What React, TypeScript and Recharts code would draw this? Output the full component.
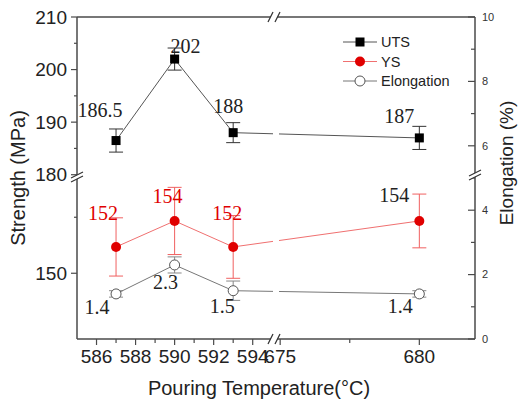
import React from 'react';
import { ComposedChart, Line, XAxis, YAxis, ErrorBar, LabelList } from 'recharts';

// pouring temperature (°C) and measured properties
const TEMPS = [587, 590, 593, 680];
const UTS = [186.5, 202, 188, 187];
const UTS_ERR = [2.2, 2.1, 1.9, 2.2];
const YS = [152.35, 154.67, 152.35, 154.67];
const YS_ERR = [2.6, 3.0, 2.8, 2.4];
const ELONG = [1.4, 2.3, 1.5, 1.4];
const ELONG_ERR = [0.1, 0.25, 0.3, 0.1];

const UTS_LABELS = ['186.5', '202', '188', '187'];
const YS_LABELS = ['152', '154', '152', '154'];
const ELONG_LABELS = ['1.4', '2.3', '1.5', '1.4'];
const YS_LABEL_COLORS = ['#e00000', '#e00000', '#e00000', '#222'];

const X_MAJOR = [586, 588, 590, 592, 594, 675, 680];
const X_MINOR = [587, 589, 591, 593, 677.5];
const UTS_TICKS = [180, 185, 190, 195, 200, 205, 210];
const YS_TICKS = [150, 155];
const ELONG_TICKS = [0, 1, 2, 3, 4, 5, 6, 7, 8, 9, 10];

// label placement relative to each point
const UTS_LABEL_OFF = [[-16, -31], [11, -13], [-5, -27], [-20, -22]];
const YS_LABEL_OFF = [[-13, -34], [-7, -25], [-6, -34], [-25, -26]];
const ELONG_LABEL_OFF = [[-19, 13], [-9, 17], [-11, 15], [-19, 12]];

const W = 518;
const H = 401;
const PLOT = { left: 77, right: 475, top: 17, bottom: 339 };

const SANS = '"Liberation Sans", Arial, sans-serif';
const SERIF = '"Liberation Serif", "Times New Roman", serif';
const AXIS = '#4a4a4a';
const RED = '#e00000';

// broken x axis: two segments glued together
const SEG1 = [585, 595.15];
const SEG2 = [674.82, 682];
const SEG2_STRETCH = 27.8 / 19.5;
const toPos = (t: number) =>
  t <= SEG1[1] ? t - SEG1[0] : SEG1[1] - SEG1[0] + (t - SEG2[0]) * SEG2_STRETCH;
const POS_MAX = toPos(SEG2[1]);

// broken left axis: UTS scale above, YS scale below
const UTS_DOMAIN = [148.75, 210];
const YS_DOMAIN = [144.13, 172.88];
const ysToUts = (v: number) =>
  UTS_DOMAIN[0] + ((v - YS_DOMAIN[0]) / (YS_DOMAIN[1] - YS_DOMAIN[0])) * (UTS_DOMAIN[1] - UTS_DOMAIN[0]);

const data = TEMPS.map((t, i) => ({
  pos: toPos(t),
  uts: UTS[i],
  utsErr: UTS_ERR[i],
  ys: YS[i],
  ysErr: YS_ERR[i],
  el: ELONG[i],
  elErr: ELONG_ERR[i],
}));

const xTicks = [
  ...X_MAJOR.map(v => ({ v: toPos(v), label: String(v), major: true })),
  ...X_MINOR.map(v => ({ v: toPos(v), label: '', major: false })),
].sort((a, b) => a.v - b.v);

const leftTicks = [
  ...YS_TICKS.map(v => ({ v: ysToUts(v), label: v % 10 === 0 ? String(v) : '', major: v % 10 === 0 })),
  ...UTS_TICKS.map(v => ({ v, label: v % 10 === 0 ? String(v) : '', major: v % 10 === 0 })),
];

const findTick = (list: { v: number; label: string; major: boolean }[], value: number) =>
  list.reduce((best, t) => (Math.abs(t.v - value) < Math.abs(best.v - value) ? t : best), list[0]);

const XTick = (props: any) => {
  const { x, y, payload } = props;
  const t = findTick(xTicks, payload.value);
  return (
    <g>
      <line x1={x} x2={x} y1={y} y2={y + (t.major ? 6 : 4)} stroke={AXIS} strokeWidth={1.2} />
      {t.label && (
        <text x={x} y={y + 17} dy="0.35em" textAnchor="middle" fontFamily={SANS} fontSize={19} fill="#222">
          {t.label}
        </text>
      )}
    </g>
  );
};

const LeftTick = (props: any) => {
  const { x, y, payload } = props;
  const t = findTick(leftTicks, payload.value);
  return (
    <g>
      <line x1={x} x2={x - (t.major ? 6 : 3)} y1={y} y2={y} stroke={AXIS} strokeWidth={1.2} />
      {t.label && (
        <text x={x - 10} y={y} dy="0.35em" textAnchor="end" fontFamily={SANS} fontSize={19} fill="#222">
          {t.label}
        </text>
      )}
    </g>
  );
};

const RightTick = (props: any) => {
  const { x, y, payload } = props;
  const major = payload.value % 2 === 0;
  return (
    <g>
      <line x1={x} x2={x - (major ? 7 : 4)} y1={y} y2={y} stroke={AXIS} strokeWidth={1.2} />
      {major && (
        <text x={x + 7} y={y} dy="0.35em" textAnchor="start" fontFamily={SANS} fontSize={11} fill="#333">
          {payload.value}
        </text>
      )}
    </g>
  );
};

const makeLabel = (texts: string[], offsets: number[][], colors: string[]) => (props: any) => {
  const { x, y, index } = props;
  const [dx, dy] = offsets[index] || [0, 0];
  return (
    <text x={x + dx} y={y + dy} dy="0.35em" textAnchor="middle" fill={colors[index]} fontFamily={SERIF} fontSize={20}>
      {texts[index]}
    </text>
  );
};

const squareDot = (p: any) => (
  <rect key={`sq-${p.index}`} x={p.cx - 4.5} y={p.cy - 4.5} width={9} height={9} fill="#000" />
);
const redDot = (p: any) => <circle key={`rd-${p.index}`} cx={p.cx} cy={p.cy} r={5} fill={RED} />;
const openDot = (p: any) => (
  <circle key={`od-${p.index}`} cx={p.cx} cy={p.cy} r={5} fill="#fff" stroke="#555" strokeWidth={1} />
);

// "//" marks where an axis is broken
const HBreak = ({ cx, cy }: { cx: number; cy: number }) => (
  <g>
    <polygon points={`${cx - 6},${cy + 5} ${cx - 1},${cy - 5} ${cx + 6},${cy - 5} ${cx + 1},${cy + 5}`} fill="#fff" />
    <line x1={cx - 6} y1={cy + 5} x2={cx - 1} y2={cy - 5} stroke="#333" strokeWidth={1.2} />
    <line x1={cx + 1} y1={cy + 5} x2={cx + 6} y2={cy - 5} stroke="#333" strokeWidth={1.2} />
  </g>
);
const VBreak = ({ cx, cy }: { cx: number; cy: number }) => (
  <g>
    <polygon points={`${cx - 6},${cy + 1} ${cx + 6},${cy - 5} ${cx + 6},${cy - 1} ${cx - 6},${cy + 5}`} fill="#fff" />
    <line x1={cx - 6} y1={cy + 1} x2={cx + 6} y2={cy - 5} stroke="#333" strokeWidth={1.2} />
    <line x1={cx - 6} y1={cy + 5} x2={cx + 6} y2={cy - 1} stroke="#333" strokeWidth={1.2} />
  </g>
);

const LEGEND = [
  { name: 'UTS', line: '#555', dot: 'square' },
  { name: 'YS', line: '#f07070', dot: 'red' },
  { name: 'Elongation', line: '#777', dot: 'open' },
];

const Overlay = () => {
  const bx = 274;
  return (
    <svg width={W} height={H} style={{ position: 'absolute', left: 0, top: 0, pointerEvents: 'none' }}>
      {/* gap in the series lines at the x break */}
      <rect x={bx - 1} y={PLOT.top + 3} width={6} height={PLOT.bottom - PLOT.top - 8} fill="#fff" />
      <line x1={PLOT.left} x2={PLOT.right} y1={PLOT.top} y2={PLOT.top} stroke={AXIS} strokeWidth={1.5} />
      <HBreak cx={bx} cy={PLOT.top} />
      <HBreak cx={bx} cy={PLOT.bottom} />
      <VBreak cx={PLOT.left} cy={177} />
      <VBreak cx={PLOT.right} cy={175} />
      {LEGEND.map((l, i) => {
        const y = 42 + i * 19.5;
        return (
          <g key={l.name}>
            <line x1={343} x2={377} y1={y} y2={y} stroke={l.line} strokeWidth={1} />
            {l.dot === 'square' && <rect x={355.5} y={y - 4.5} width={9} height={9} fill="#000" />}
            {l.dot === 'red' && <circle cx={360} cy={y} r={5} fill={RED} />}
            {l.dot === 'open' && <circle cx={360} cy={y} r={5} fill="#fff" stroke="#555" />}
            <text x={381} y={y} dy="0.35em" fontFamily={SANS} fontSize={14.5} fill="#222">
              {l.name}
            </text>
          </g>
        );
      })}
      <text
        transform="translate(18,178) rotate(-90)"
        textAnchor="middle"
        dy="0.35em"
        fontFamily={SANS}
        fontSize={20}
        fill="#222"
      >
        Strength (MPa)
      </text>
      <text
        transform="translate(506,163) rotate(-90)"
        textAnchor="middle"
        dy="0.35em"
        fontFamily={SANS}
        fontSize={19}
        fill="#222"
      >
        Elongation (%)
      </text>
      <text x={259} y={388} dy="0.35em" textAnchor="middle" fontFamily={SANS} fontSize={20} fill="#222">
        Pouring Temperature(°C)
      </text>
    </svg>
  );
};

export default function App() {
  return (
    <div style={{ position: 'absolute', left: 0, top: 0, width: W, height: H, background: '#fff' }}>
      <ComposedChart width={W} height={H} data={data} margin={{ top: PLOT.top, right: 0, bottom: 0, left: 0 }}>
        <XAxis
          type="number"
          dataKey="pos"
          domain={[0, POS_MAX]}
          allowDataOverflow
          ticks={xTicks.map(t => t.v)}
          interval={0}
          height={H - PLOT.bottom}
          tickSize={0}
          tickMargin={0}
          tickLine={false}
          tick={<XTick />}
          axisLine={{ stroke: AXIS, strokeWidth: 1.5 }}
        />
        <YAxis
          yAxisId="uts"
          domain={UTS_DOMAIN}
          allowDataOverflow
          ticks={leftTicks.map(t => t.v)}
          interval={0}
          width={PLOT.left}
          tickSize={0}
          tickMargin={0}
          tickLine={false}
          tick={<LeftTick />}
          axisLine={{ stroke: AXIS, strokeWidth: 1.5 }}
        />
        <YAxis yAxisId="ys" domain={YS_DOMAIN} allowDataOverflow hide />
        <YAxis
          yAxisId="el"
          orientation="right"
          domain={[0, 10]}
          allowDataOverflow
          ticks={ELONG_TICKS}
          interval={0}
          width={W - PLOT.right}
          tickSize={0}
          tickMargin={0}
          tickLine={false}
          tick={<RightTick />}
          axisLine={{ stroke: AXIS, strokeWidth: 1.5 }}
        />
        <Line
          yAxisId="el"
          dataKey="el"
          stroke="#777"
          strokeWidth={1}
          dot={openDot}
          activeDot={false}
          isAnimationActive={false}
        >
          <ErrorBar dataKey="elErr" width={7} stroke="#888" strokeWidth={1} direction="y" />
          <LabelList dataKey="el" content={makeLabel(ELONG_LABELS, ELONG_LABEL_OFF, ['#222', '#222', '#222', '#222'])} />
        </Line>
        <Line
          yAxisId="ys"
          dataKey="ys"
          stroke="#f07070"
          strokeWidth={1}
          dot={redDot}
          activeDot={false}
          isAnimationActive={false}
        >
          <ErrorBar dataKey="ysErr" width={7} stroke="#f06060" strokeWidth={1} direction="y" />
          <LabelList dataKey="ys" content={makeLabel(YS_LABELS, YS_LABEL_OFF, YS_LABEL_COLORS)} />
        </Line>
        <Line
          yAxisId="uts"
          dataKey="uts"
          stroke="#555"
          strokeWidth={1}
          dot={squareDot}
          activeDot={false}
          isAnimationActive={false}
        >
          <ErrorBar dataKey="utsErr" width={7} stroke="#333" strokeWidth={1} direction="y" />
          <LabelList dataKey="uts" content={makeLabel(UTS_LABELS, UTS_LABEL_OFF, ['#222', '#222', '#222', '#222'])} />
        </Line>
      </ComposedChart>
      <Overlay />
    </div>
  );
}
